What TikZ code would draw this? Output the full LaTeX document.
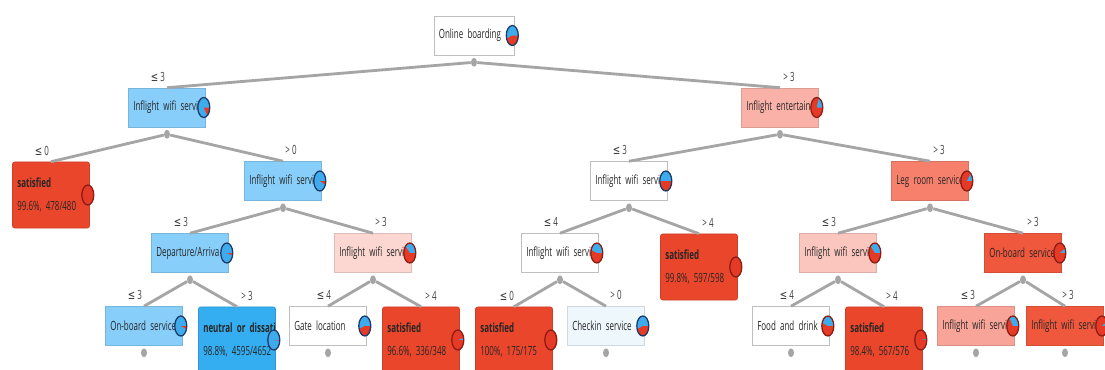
\documentclass[tikz,border=0pt]{standalone}
\usepackage{fontspec}
\setmainfont{Open Sans}[FakeStretch=0.63]
\newfontfamily\symfont{DejaVu Sans}[FakeStretch=0.7]
\usetikzlibrary{shapes.geometric}

\newcommand\leqsign{{\symfont ≤}}

\definecolor{edgegray}{RGB}{165,165,165}
\definecolor{blueA}{RGB}{135,206,250}
\definecolor{blueB}{RGB}{52,174,240}
\definecolor{blueC}{RGB}{238,247,252}
\definecolor{redA}{RGB}{252,214,208}
\definecolor{redA2}{RGB}{250,198,190}
\definecolor{redB}{RGB}{250,178,168}
\definecolor{redB2}{RGB}{249,164,152}
\definecolor{redC}{RGB}{246,128,108}
\definecolor{redD}{RGB}{240,88,62}
\definecolor{redE}{RGB}{234,70,44}
\definecolor{pieblue}{RGB}{62,172,236}
\definecolor{piered}{RGB}{228,58,38}
\definecolor{pieblueedge}{RGB}{28,58,105}
\definecolor{pierededge}{RGB}{140,28,20}

\tikzset{
  tbox/.style={draw=#1!88!black, fill=#1, minimum width=1.925cm, minimum height=0.975cm,
    inner xsep=0.12cm, text width=1.685cm, align=left, text=black!85,
    font=\fontsize{9}{10}\selectfont},
  leafbox/.style={tbox=#1, minimum height=1.65cm, rounded corners=1.5pt,
    font=\fontsize{9}{16}\selectfont},
  knob/.style={ellipse, fill=edgegray, minimum width=0.15cm, minimum height=0.22cm, inner sep=0pt},
  branch/.style={draw=edgegray, line width=2pt},
  cond/.style={font=\fontsize{9}{10}\selectfont, text=black!75, inner sep=0pt}
}

% class pie: node name, share of "satisfied"
\newcommand\pie[2]{%
  \pgfmathtruncatemacro\redmost{#2>0.5}%
  \ifnum\redmost=1 \def\pieedge{pierededge}\else\def\pieedge{pieblueedge}\fi
  \begin{scope}[shift={([xshift=-0.05cm]#1.east)}]
    \fill[pieblue] (0,0) ellipse [x radius=6, y radius=10];
    \fill[piered] (0,0) -- (6,0) arc [start angle=0, end angle=#2*360, x radius=6, y radius=10] -- cycle;
    \draw[\pieedge, line width=0.9pt] (0,0) ellipse [x radius=6, y radius=10];
  \end{scope}}

\begin{document}
\begin{tikzpicture}[x=0.025cm, y=-0.025cm]
    \useasboundingbox[fill=white] (0,0) rectangle (1105,369);

    % Root
    \node[tbox=white, minimum width=2cm, text width=1.76cm, draw=black!25] (root) at (474,35.5) {\mbox{Online boarding}};

    % Level 1
    \node[tbox=blueA] (a) at (167,107.5) {\mbox{Inflight wifi servic}};
    \node[tbox=redB] (b) at (780,107.5) {\mbox{Inflight entertain}};

    % Level 2
    \node[leafbox=redE] (aa) at (51,195) {\textbf{satisfied}\\\mbox{99.6\%, 478/480}};
    \node[tbox=blueA] (ab) at (283,181) {\mbox{Inflight wifi servic}};
    \node[tbox=white, draw=black!25] (ba) at (629,181) {\mbox{Inflight wifi servic}};
    \node[tbox=redC] (bb) at (930,181) {\mbox{Leg room service}};

    % Level 3
    \node[tbox=blueA] (aba) at (190,253) {\mbox{Departure/Arriva}};
    \node[tbox=redA] (abb) at (373,253) {\mbox{Inflight wifi servic}};
    \node[tbox=white, draw=black!25] (baa) at (560,253) {\mbox{Inflight wifi servic}};
    \node[leafbox=redE] (bab) at (699,267) {\textbf{satisfied}\\\mbox{99.8\%, 597/598}};
    \node[tbox=redA2] (bba) at (838,253) {\mbox{Inflight wifi servic}};
    \node[tbox=redD] (bbb) at (1023,253) {\mbox{On-board service}};

    % Level 4
    \node[tbox=blueA] (abaa) at (144,326) {\mbox{On-board service}};
    \node[leafbox=blueB] (abab) at (237,340) {\mbox{\textbf{neutral or dissati}}\\\mbox{98.8\%, 4595/4652}};
    \node[tbox=white, draw=black!25] (abba) at (328,326) {\mbox{Gate location}};
    \node[leafbox=redE] (abbb) at (421,340) {\textbf{satisfied}\\\mbox{96.6\%, 336/348}};
    \node[leafbox=redE] (baaa) at (514,340) {\textbf{satisfied}\\\mbox{100\%, 175/175}};
    \node[tbox=blueC] (baab) at (606,326) {\mbox{Checkin service}};
    \node[tbox=white, draw=black!25] (bbaa) at (791,326) {\mbox{Food and drink}};
    \node[leafbox=redE] (bbab) at (884,340) {\textbf{satisfied}\\\mbox{98.4\%, 567/576}};
    \node[tbox=redB2] (bbba) at (976,326) {\mbox{Inflight wifi servic}};
    \node[tbox=redD] (bbbb) at (1065,326) {\mbox{Inflight wifi servic}};

    % Knobs under split nodes
    \foreach \n in {root,a,b,ab,ba,bb,aba,abb,baa,bba,bbb,abaa,abba,baab,bbaa,bbba,bbbb}
        \node[knob] (k-\n) at ([yshift=-0.175cm]\n.south) {};

    % Branches
    \foreach \p/\c in {root/a,root/b,a/aa,a/ab,b/ba,b/bb,ab/aba,ab/abb,ba/baa,ba/bab,
                       bb/bba,bb/bbb,aba/abaa,aba/abab,abb/abba,abb/abbb,baa/baaa,baa/baab,
                       bba/bbaa,bba/bbab,bbb/bbba,bbb/bbbb}
        \draw[branch] (k-\p) -- (\c.north);

    % Split conditions
    \foreach \c/\t/\s in {a/{\leqsign\ 3}/-9,b/{> 3}/9,aa/{\leqsign\ 0}/-9,ab/{> 0}/8,
                          ba/{\leqsign\ 3}/-9,bb/{> 3}/9,aba/{\leqsign\ 3}/-9,abb/{> 3}/8,
                          baa/{\leqsign\ 4}/-9,bab/{> 4}/9,bba/{\leqsign\ 3}/-9,bbb/{> 3}/10,
                          abaa/{\leqsign\ 3}/-9,abab/{> 3}/10,abba/{\leqsign\ 4}/-4,abbb/{> 4}/10,
                          baaa/{\leqsign\ 0}/-7,baab/{> 0}/10,bbaa/{\leqsign\ 4}/-4,bbab/{> 4}/8,
                          bbba/{\leqsign\ 3}/-8,bbbb/{> 3}/3}
        \node[cond] (l-\c) at ([shift={(\s,-11)}]\c.north) {\t};

    % Class pies
    \pie{root}{0.45}
    \pie{a}{0.15}
    \pie{b}{0.8}
    \pie{aa}{0.996}
    \pie{ab}{0.06}
    \pie{ba}{0.5}
    \pie{bb}{0.86}
    \pie{aba}{0.04}
    \pie{abb}{0.62}
    \pie{baa}{0.55}
    \pie{bab}{0.998}
    \pie{bba}{0.62}
    \pie{bbb}{0.92}
    \pie{abaa}{0.05}
    \pie{abab}{0.012}
    \pie{abba}{0.45}
    \pie{abbb}{0.966}
    \pie{baaa}{1}
    \pie{baab}{0.45}
    \pie{bbaa}{0.55}
    \pie{bbab}{0.984}
    \pie{bbba}{0.65}
    \pie{bbbb}{0.92}
\end{tikzpicture}
\end{document}
